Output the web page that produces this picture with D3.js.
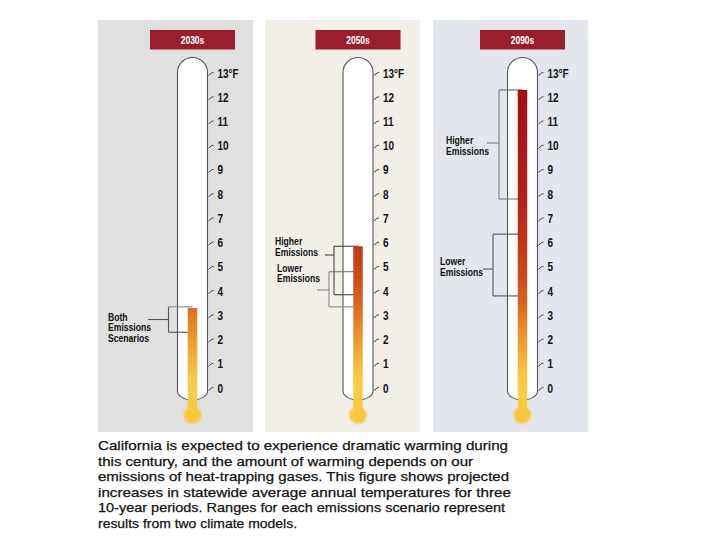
<!DOCTYPE html>
<html><head><meta charset="utf-8">
<script src="https://cdn.jsdelivr.net/npm/d3@7"></script>
<style>html,body{margin:0;padding:0;background:#fff;}svg{display:block;}</style>
</head><body>
<svg id="chart" width="720" height="540"></svg>
<script>
// ---- data ----
const periods = ["2030s", "2050s", "2090s"];
const tickValues = [0,1,2,3,4,5,6,7,8,9,10,11,12,13];
const tickLabels = ["0","1","2","3","4","5","6","7","8","9","10","11","12","13°F"];
const columnTop = [3.3, 5.85, 12.3];           // top of the mercury column per period (°F)
const scenarioPeriod = ["2030s", "2050s", "2050s", "2090s", "2090s"];
const scenarioLabel = [["Both","Emissions","Scenarios"], ["Higher","Emissions"], ["Lower","Emissions"], ["Higher","Emissions"], ["Lower","Emissions"]];
const scenarioLow  = [2.3, 3.85, 3.35, 7.8, 3.8];
const scenarioHigh = [3.35, 5.85, 4.8, 12.3, 6.35];
const captionLines = [
  "California is expected to experience dramatic warming during",
  "this century, and the amount of warming depends on our",
  "emissions of heat-trapping gases. This figure shows projected",
  "increases in statewide average annual temperatures for three",
  "10-year periods. Ranges for each emissions scenario represent",
  "results from two climate models."
];

// ---- layout (pixels) ----
const panelLayout = [
  {x: 98,  w: 155, bg: "#e0e0e0", cx: 192.5},
  {x: 265, w: 155, bg: "#f2eee8", cx: 358},
  {x: 433, w: 155, bg: "#e3e6ed", cx: 522.5}
];
const scenarioLayout = [
  {dx: -24,   lx0: 148, ly: 319.5, tx: 108, ty: 320.5, lh: 10.5, col: "#555", hi: "#888"},
  {dx: -24,   lx0: 325, ly: 255,   tx: 275, ty: 245,   lh: 11,   col: "#444", hi: "#444"},
  {dx: -29,   lx0: 317, ly: 290,   tx: 277, ty: 271.5, lh: 10.5, col: "#888", hi: "#777"},
  {dx: -23.5, lx0: 487, ly: 143,   tx: 446, ty: 144,   lh: 11,   col: "#777", hi: "#666"},
  {dx: -29.5, lx0: 483, ly: 269,   tx: 440, ty: 265,   lh: 11,   col: "#555", hi: "#555"}
];

const svg = d3.select("#chart");
const y = d3.scaleLinear().domain([0, 13]).range([388, 73]);
const tubeR = 15, colW = 9.5, bulbY = 415, bulbR = 8.7;
const sans = "'Liberation Sans',Arial,sans-serif";
// condense text horizontally (the original uses a condensed face)
function condense(sel, f) {
  sel.each(function () {
    const w = this.getComputedTextLength();
    d3.select(this).attr("textLength", w * f).attr("lengthAdjust", "spacingAndGlyphs");
  });
}

const defs = svg.append("defs");
const grad = defs.append("linearGradient").attr("id", "merc")
  .attr("gradientUnits", "userSpaceOnUse")
  .attr("x1", 0).attr("x2", 0).attr("y1", bulbY).attr("y2", y(12.5));
const gStops = [
  {t: -1, c: "#fbd44c"}, {t: 0.5, c: "#f8c841"}, {t: 1.5, c: "#f1aa33"}, {t: 2.5, c: "#e68a27"},
  {t: 3.5, c: "#d9661f"}, {t: 4.5, c: "#cd4c1b"}, {t: 6, c: "#c03519"}, {t: 8, c: "#b1221a"}, {t: 12.5, c: "#a00e14"}
];
const offScale = d3.scaleLinear().domain([y.invert(bulbY), 12.5]).range([0, 1]);
gStops.forEach(s => grad.append("stop").attr("offset", Math.max(0, Math.min(1, offScale(s.t)))).attr("stop-color", s.c));
defs.append("filter").attr("id", "soft").append("feGaussianBlur").attr("stdDeviation", 0.8);

periods.forEach((p, i) => {
  const L = panelLayout[i];
  const g = svg.append("g");
  g.append("rect").attr("x", L.x).attr("y", 20).attr("width", L.w).attr("height", 412).attr("fill", L.bg);
  // title box
  g.append("rect").attr("x", L.cx - 42.5).attr("y", 30).attr("width", 85).attr("height", 19.5).attr("fill", "#9a1f2b");
  g.append("text").attr("x", L.cx).attr("y", 43.5).attr("text-anchor", "middle")
    .attr("fill", "#fff").attr("font-family", sans).attr("font-weight", "bold").attr("font-size", 10).text(p)
    .call(condense, 0.85);

  const lft = L.cx - tubeR, rgt = L.cx + tubeR;
  const topC = y(13) - 0.5, botY = 391;
  const tube = `M${lft},${topC} A${tubeR},${tubeR} 0 0 1 ${rgt},${topC} L${rgt},${botY} A${tubeR},9 0 0 1 ${lft},${botY} Z`;
  g.append("path").attr("d", tube).attr("fill", "#fff").attr("stroke", "#555").attr("stroke-width", 1.1);

  // brackets
  scenarioPeriod.forEach((sp, k) => {
    if (sp !== p) return;
    const S = scenarioLayout[k];
    const bx = L.cx + S.dx;
    const yh = y(scenarioHigh[k]), yl = y(scenarioLow[k]);
    g.append("line").attr("x1", bx).attr("x2", L.cx).attr("y1", yh).attr("y2", yh).attr("stroke", S.hi).attr("stroke-width", 1.1);
    g.append("line").attr("x1", bx).attr("x2", L.cx).attr("y1", yl).attr("y2", yl).attr("stroke", S.col).attr("stroke-width", 1.1);
    g.append("line").attr("x1", bx).attr("x2", bx).attr("y1", yh).attr("y2", yl).attr("stroke", S.col).attr("stroke-width", 1.1);
    g.append("line").attr("x1", S.lx0).attr("x2", bx).attr("y1", S.ly).attr("y2", S.ly).attr("stroke", S.col).attr("stroke-width", 1.1);
    scenarioLabel[k].forEach((w, j) => g.append("text").attr("x", S.tx).attr("y", S.ty + j * S.lh)
      .attr("font-family", sans).attr("font-weight", "bold").attr("font-size", 10).attr("fill", "#111")
      .text(w).call(condense, 0.86));
  });

  // mercury column + bulb
  g.append("rect").attr("x", L.cx - colW / 2).attr("y", y(columnTop[i])).attr("width", colW)
    .attr("height", bulbY - y(columnTop[i])).attr("fill", "url(#merc)");
  g.append("circle").attr("cx", L.cx).attr("cy", bulbY).attr("r", bulbR).attr("fill", "#f8c73f").attr("filter", "url(#soft)");
  g.append("rect").attr("x", L.cx - colW / 2 + 0.5).attr("y", 398).attr("width", colW - 1).attr("height", 12).attr("fill", "#f8c841");

  // ticks and labels
  tickValues.forEach((v, j) => {
    const ty = y(v);
    g.append("path").attr("d", `M${rgt + 1},${ty + 2.5} L${rgt + 4},${ty} L${rgt + 6},${ty - 0.5}`)
      .attr("fill", "none").attr("stroke", "#444").attr("stroke-width", 1);
    g.append("text").attr("x", rgt + 10).attr("y", ty + 4.5).attr("font-family", sans).attr("font-weight", "bold")
      .attr("font-size", 12.5).attr("fill", "#111").text(tickLabels[j]).call(condense, 0.8);
  });
});

// caption
const capW = [410, 375, 411, 413, 407, 199];
captionLines.forEach((l, j) => svg.append("text").attr("x", 98).attr("y", 450 + j * 15.6)
  .attr("font-family", sans).attr("font-size", 13.3).attr("fill", "#111")
  .attr("stroke", "#111").attr("stroke-width", 0.25)
  .attr("textLength", capW[j]).attr("lengthAdjust", "spacingAndGlyphs").text(l));
</script>
</body></html>
